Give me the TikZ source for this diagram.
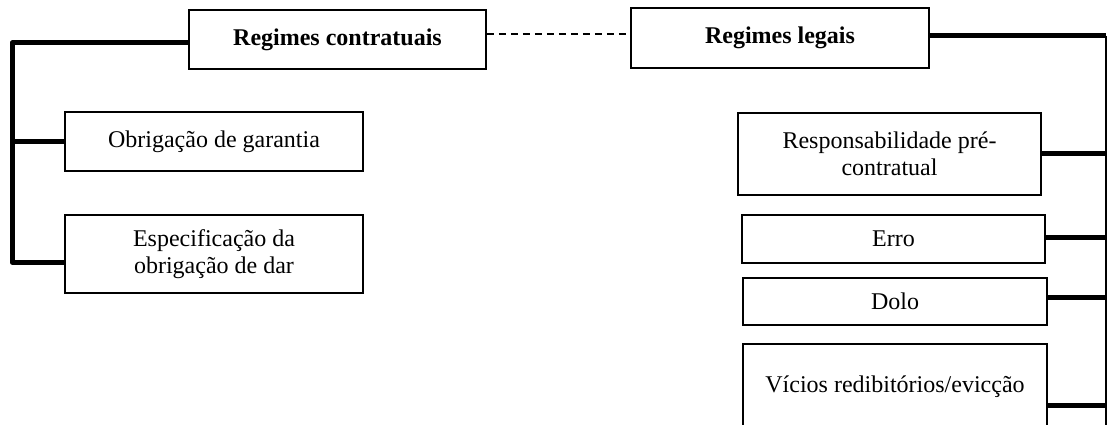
\documentclass[tikz,border=0pt]{standalone}
\usepackage{fontspec}
\setmainfont{Liberation Serif}
\begin{document}
\begin{tikzpicture}[x=1pt,y=-1pt,
  box/.style={draw,line width=1.5pt,inner sep=0pt,align=center,font=\fontsize{24}{27}\selectfont},
  hbox/.style={box,font=\fontsize{24}{27}\selectfont\bfseries},
  thickline/.style={line width=5pt,line join=round},
  thinline/.style={line width=1.3pt},
  dashline/.style={line width=1.1pt,dash pattern=on 7pt off 5pt}]
\useasboundingbox (0,0) rectangle (1107,425);
\clip (0,0) rectangle (1107,425);
% headers
\node[hbox,minimum width=297pt,minimum height=59pt] (contr) at (337.5,39.5) {Regimes contratuais};
\node[hbox,minimum width=298pt,minimum height=60pt] (legais) at (780,38) {Regimes legais};
% left children
\node[box,minimum width=298pt,minimum height=59pt] (obr) at (214,141.5) {Obrigação de garantia};
\node[box,minimum width=298pt,minimum height=78pt] (esp) at (214,254) {Especificação da\\obrigação de dar};
% right children
\node[box,minimum width=303pt,minimum height=82pt] (resp) at (889.5,154) {Responsabilidade pré-\\contratual};
\node[box,minimum width=303pt,minimum height=48pt] (erro) at (893.5,239) {Erro};
\node[box,minimum width=304pt,minimum height=47pt] (dolo) at (895,301.5) {Dolo};
\node[box,minimum width=304pt,minimum height=86pt] (vic) at (895,387) {Vícios redibitórios/evicção};
% left connector
\coordinate (L1) at (12,43);
\coordinate (L2) at (12,141);
\coordinate (L3) at (12,262);
\draw[thickline] (contr.west |- L1) -- (L1) -- (L3) -- (esp.west |- L3);
\draw[thickline] (L2) -- (obr.west |- L2);
% dashed link
\coordinate (D) at (0,34);
\draw[dashline] (contr.east |- D) -- (legais.west |- D);
% right connector
\coordinate (R0) at (1106,36);
\coordinate (Rend) at (1106,425);
\coordinate (R1) at (1106,153);
\coordinate (R2) at (1106,237);
\coordinate (R3) at (1106,297);
\coordinate (R4) at (1106,405);
\draw[thickline] (legais.east |- R0) -- (R0);
\draw[thinline] (R0) -- (Rend);
\draw[thickline] (resp.east |- R1) -- (R1);
\draw[thickline] (erro.east |- R2) -- (R2);
\draw[thickline] (dolo.east |- R3) -- (R3);
\draw[thickline] (vic.east |- R4) -- (R4);
\end{tikzpicture}
\end{document}
